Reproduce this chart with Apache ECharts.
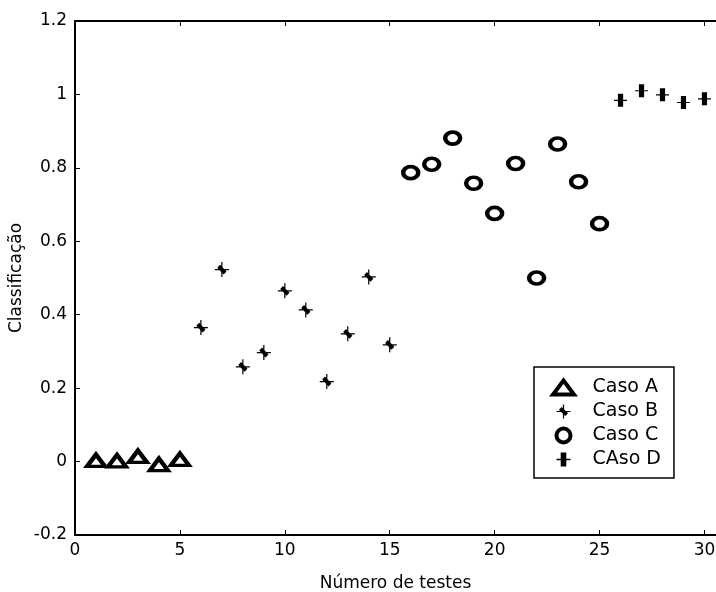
<!DOCTYPE html>
<html>
<head>
<meta charset="utf-8">
<script src="https://cdn.jsdelivr.net/npm/echarts@6/dist/echarts.min.js"></script>
<style>
  html, body { margin: 0; padding: 0; background: #fff; }
  #chart { width: 716px; height: 592px; }
</style>
</head>
<body>
<div id="chart"></div>
<script>
// test number per group
const xA = [1, 2, 3, 4, 5];
const xB = [6, 7, 8, 9, 10, 11, 12, 13, 14, 15];
const xC = [16, 17, 18, 19, 20, 21, 22, 23, 24, 25];
const xD = [26, 27, 28, 29, 30];

// classification values
const yA = [0.003, 0.002, 0.014, -0.008, 0.006];
const yB = [0.365, 0.523, 0.258, 0.297, 0.465, 0.413, 0.218, 0.348, 0.503, 0.318];
const yC = [0.787, 0.81, 0.881, 0.758, 0.676, 0.812, 0.5, 0.865, 0.762, 0.648];
const yD = [0.984, 1.01, 0.999, 0.978, 0.988];

const names = ['Caso A', 'Caso B', 'Caso C', 'CAso D'];
const xTicks = ['0', '5', '10', '15', '20', '25', '30'];
const yTicks = ['-0.2', '0', '0.2', '0.4', '0.6', '0.8', '1', '1.2'];

const FONT = 'DejaVu Sans';
const zip = (xs, ys) => xs.map((x, i) => [x, ys[i]]);

const triPath = 'path://M0,-6 L9,6 L-9,6 Z';
const starPath = 'path://M-0.6,-7 h1.2 v14 h-1.2 Z M-7,-0.6 h14 v1.2 h-14 Z M-4.6,-1.8 L-1.8,-4.6 L4.6,1.8 L1.8,4.6 Z';
const barPath = 'path://M-6.5,-0.6 h13 v1.2 h-13 Z M-2.6,-6.5 h5.2 v13 h-5.2 Z';
const ellipsePath = 'path://M-1,0 A1,1 0 1,1 1,0 A1,1 0 1,1 -1,0 Z';

const axisLine = {show: true, onZero: false, lineStyle: {color: '#000', width: 2}};
const axisTick = {show: true, inside: true, length: 5, lineStyle: {color: '#000', width: 1}};
// the picture is cut just right of x = 30, so the axis runs up to the edge
const xMax = 30.55;

const chart = echarts.init(document.getElementById('chart'));
chart.setOption({
  animation: false,
  backgroundColor: '#fff',
  grid: {left: 75, right: 0, top: 21, bottom: 57, containLabel: false, outerBoundsMode: 'none'},
  legend: {
    orient: 'vertical',
    left: 534,
    top: 367,
    padding: [11, 13, 9, 17],
    itemWidth: 24,
    itemHeight: 14,
    itemGap: 5,
    borderColor: '#000',
    borderWidth: 1.5,
    backgroundColor: '#fff',
    selectedMode: false,
    symbolKeepAspect: true,
    itemStyle: {borderWidth: 4},
    textStyle: {fontFamily: FONT, fontSize: 19, color: '#000', padding: [0, 0, 0, 12]},
    data: [
      {name: names[0], icon: triPath},
      {name: names[1], icon: starPath, itemStyle: {borderWidth: 0}},
      {name: names[2], icon: 'circle'},
      {name: names[3], icon: barPath, itemStyle: {borderWidth: 0}},
    ],
  },
  xAxis: [
    {
      type: 'value',
      min: 0,
      max: xMax,
      interval: 5,
      name: 'Número de testes',
      nameLocation: 'middle',
      nameGap: 40,
      nameTextStyle: {fontFamily: FONT, fontSize: 17, color: '#000'},
      axisLine,
      axisTick,
      splitLine: {show: false},
      axisLabel: {
        fontFamily: FONT,
        fontSize: 17,
        color: '#000',
        margin: 7,
        formatter: (v) => (v % 5 === 0 ? xTicks[v / 5] : ''),
      },
    },
    {
      type: 'value',
      position: 'top',
      min: 0,
      max: xMax,
      interval: 5,
      axisLine,
      axisTick,
      splitLine: {show: false},
      axisLabel: {show: false},
    },
  ],
  yAxis: [
    {
      type: 'value',
      min: -0.2,
      max: 1.2,
      interval: 0.2,
      name: 'Classificação',
      nameLocation: 'middle',
      nameGap: 50,
      nameMoveOverlap: false,
      nameTextStyle: {fontFamily: FONT, fontSize: 17, color: '#000'},
      axisLine,
      axisTick,
      splitLine: {show: false},
      axisLabel: {
        fontFamily: FONT,
        fontSize: 17,
        color: '#000',
        margin: 8,
        formatter: (v) => yTicks[Math.round((v + 0.2) / 0.2)],
      },
    },
  ],
  series: [
    {
      name: names[0],
      type: 'scatter',
      symbol: triPath,
      symbolSize: [18, 12],
      itemStyle: {color: '#fff', borderColor: '#000', borderWidth: 4, opacity: 1},
      data: zip(xA, yA),
    },
    {
      name: names[1],
      type: 'scatter',
      symbol: starPath,
      symbolSize: [14, 15],
      itemStyle: {color: '#000', opacity: 1},
      data: zip(xB, yB),
    },
    {
      name: names[2],
      type: 'scatter',
      symbol: ellipsePath,
      symbolSize: [15, 12],
      itemStyle: {color: '#fff', borderColor: '#000', borderWidth: 4, opacity: 1},
      data: zip(xC, yC),
    },
    {
      name: names[3],
      type: 'scatter',
      symbol: barPath,
      symbolSize: [13, 13],
      itemStyle: {color: '#000', opacity: 1},
      data: zip(xD, yD),
    },
  ],
});
</script>
</body>
</html>
